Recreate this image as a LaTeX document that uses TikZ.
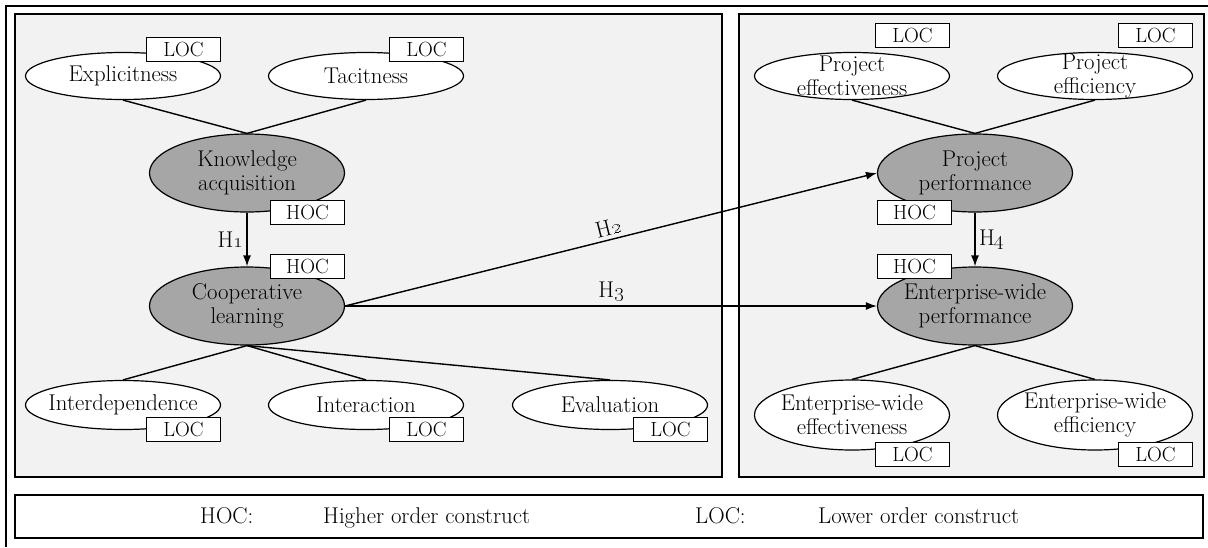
\documentclass[tikz,border=0pt]{standalone}
\usetikzlibrary{shapes.geometric,arrows.meta}
\definecolor{panelgray}{HTML}{F2F2F2}
\definecolor{hocgray}{HTML}{A6A6A6}
\newcommand{\hyp}[1]{H\oldstylenums{#1}}
\begin{document}
\begin{tikzpicture}[x=1pt,y=-1pt,
  every node/.style={font=\fontsize{22.8}{24}\selectfont},
  lo/.style={ellipse,draw,line width=1.2pt,fill=white,inner sep=0pt,minimum width=195,minimum height=47},
  hi/.style={lo,fill=hocgray,minimum height=78},
  tag/.style={draw,line width=1.2pt,fill=white,inner sep=0pt,minimum width=74,minimum height=24,font=\fontsize{20.5}{22}\selectfont},
  key/.style={anchor=base west,inner sep=0pt},
  link/.style={line width=1.4pt},
  hyparrow/.style={line width=1.4pt,-{Latex[length=11pt,width=8pt]}}]
\useasboundingbox (0,0) rectangle (1208,547);
\draw[line width=2pt] (6,547) -- (6,6) -- (1208,6);
\draw[line width=2.2pt,fill=panelgray] (15,14) rectangle (722,477);
\draw[line width=2.2pt,fill=panelgray] (739,14) rectangle (1204,477);
\draw[line width=1.5pt,fill=white] (15,495) rectangle (1203,538);

\node[lo,label=center:Explicitness] (expl) at (123,76) {};
\node[lo,label=center:Tacitness] (tac) at (366,76) {};
\node[hi,label={[align=center]center:Knowledge\\acquisition}] (know) at (247,173) {};
\node[hi,label={[align=center]center:Cooperative\\learning}] (coop) at (247,306) {};
\node[lo,minimum height=49,label=center:Interdependence] (intd) at (123,405) {};
\node[lo,minimum height=49,label=center:Interaction] (intr) at (366,405) {};
\node[lo,minimum height=49,label=center:Evaluation] (eval) at (610,405) {};

\node[lo,label={[align=center]center:Project\\effectiveness}] (peff) at (852,76) {};
\node[lo,label={[align=center]center:Project\\efficiency}] (peffi) at (1095,76) {};
\node[hi,label={[align=center]center:Project\\performance}] (proj) at (975,173) {};
\node[hi,label={[align=center]center:Enterprise-wide\\performance}] (ent) at (975,306) {};
\node[lo,minimum height=70,label={[align=center]center:Enterprise-wide\\effectiveness}] (eeff) at (852,415) {};
\node[lo,minimum height=70,label={[align=center]center:Enterprise-wide\\efficiency}] (eeffi) at (1095,415) {};

\draw[link] (expl.south) -- (know.north); \draw[link] (tac.south) -- (know.north);
\draw[link] (coop.south) -- (intd.north); \draw[link] (coop.south) -- (intr.north);
\draw[link] (coop.south) -- (eval.north);
\draw[link] (peff.south) -- (proj.north); \draw[link] (peffi.south) -- (proj.north);
\draw[link] (ent.south) -- (eeff.north); \draw[link] (ent.south) -- (eeffi.north);

\draw[hyparrow] (know.south) -- node[left] (h1) {\hyp{1}} (coop.north);
\draw[hyparrow] (coop.east) -- node[above,sloped] (h2) {\hyp{2}} (proj.west);
\draw[hyparrow] (coop.east) -- node[above] (h3) {\hyp{3}} (ent.west);
\draw[hyparrow] (proj.south) -- node[right] (h4) {\hyp{4}} (ent.north);

\node[tag,anchor=south east] (expl-loc) at ([yshift=14pt]expl.east) {LOC};
\node[tag,anchor=south east] (tac-loc) at ([yshift=14pt]tac.east) {LOC};
\node[tag,anchor=north east] (know-hoc) at ([yshift=-27pt]know.east) {HOC};
\node[tag,anchor=south east] (coop-hoc) at ([yshift=27pt]coop.east) {HOC};
\node[tag,anchor=north east] (intd-loc) at ([yshift=-12pt]intd.east) {LOC};
\node[tag,anchor=north east] (intr-loc) at ([yshift=-12pt]intr.east) {LOC};
\node[tag,anchor=north east] (eval-loc) at ([yshift=-12pt]eval.east) {LOC};
\node[tag,anchor=south east] (peff-loc) at ([yshift=28pt]peff.east) {LOC};
\node[tag,anchor=south east] (peffi-loc) at ([yshift=28pt]peffi.east) {LOC};
\node[tag,anchor=north west] (proj-hoc) at ([yshift=-27pt]proj.west) {HOC};
\node[tag,anchor=south west] (ent-hoc) at ([yshift=27pt]ent.west) {HOC};
\node[tag,anchor=north east] (eeff-loc) at ([yshift=-27pt]eeff.east) {LOC};
\node[tag,anchor=north east] (eeffi-loc) at ([yshift=-27pt]eeffi.east) {LOC};

\node[key] (hoc-key) at (200,523) {HOC:};
\node[key] (hoc-txt) at (323,523) {Higher order construct};
\node[key] (loc-key) at (695,523) {LOC:};
\node[key] (loc-txt) at (818,523) {Lower order construct};
\end{tikzpicture}
\end{document}
